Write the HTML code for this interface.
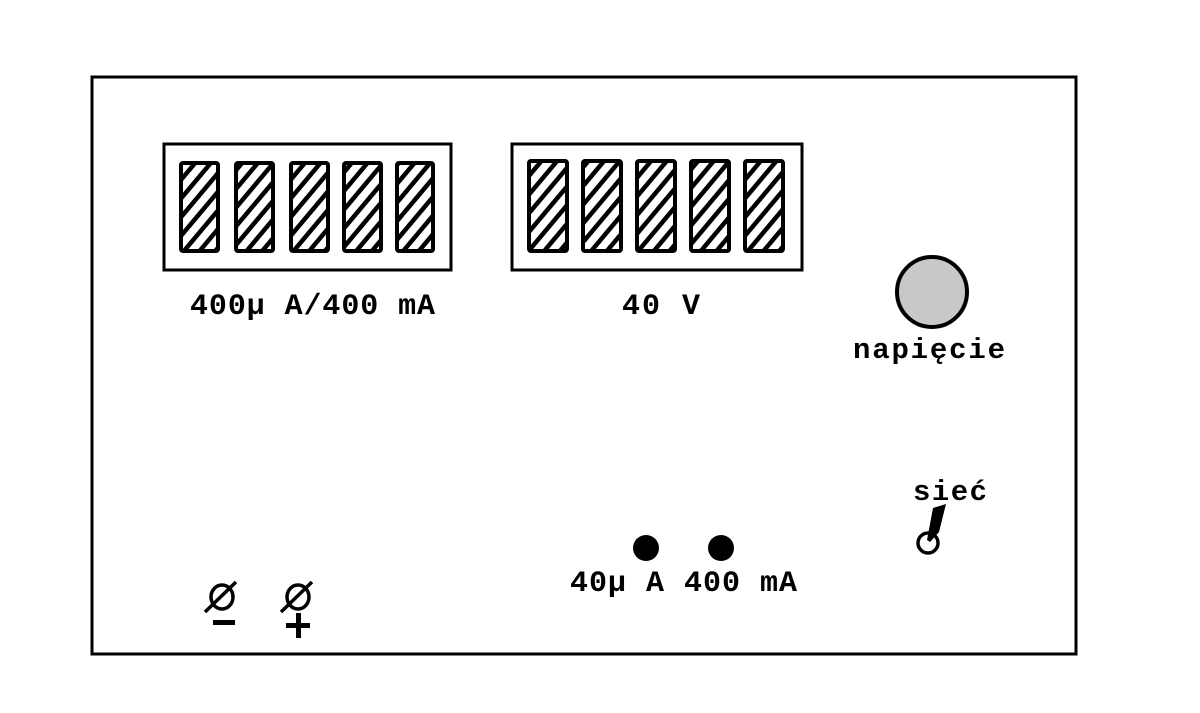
<!DOCTYPE html>
<html><head><meta charset="utf-8"><style>
html,body{margin:0;padding:0;background:#fff}
svg{display:block}
text{font-family:"Liberation Mono","DejaVu Sans Mono",monospace;font-weight:bold;fill:#000}
</style></head><body>
<svg width="1200" height="713" viewBox="0 0 1200 713" xmlns="http://www.w3.org/2000/svg">
<defs>
<pattern id="h" patternUnits="userSpaceOnUse" width="12" height="12" patternTransform="rotate(40)">
<rect width="12" height="12" fill="#fff"/>
<rect x="0" y="0" width="4.5" height="12" fill="#000"/>
</pattern>
</defs>
<rect x="92" y="77" width="984" height="577" fill="none" stroke="#000" stroke-width="3"/>
<rect x="164" y="144" width="287" height="126" fill="none" stroke="#000" stroke-width="3"/>
<rect x="512" y="144" width="290" height="126" fill="none" stroke="#000" stroke-width="3"/>
<g fill="url(#h)" stroke="#000" stroke-width="4">
<rect x="181" y="163" width="37" height="88" rx="2"/>
<rect x="236" y="163" width="37" height="88" rx="2"/>
<rect x="291" y="163" width="37" height="88" rx="2"/>
<rect x="344" y="163" width="37" height="88" rx="2"/>
<rect x="397" y="163" width="36" height="88" rx="2"/>
<rect x="529" y="161" width="38" height="90" rx="2"/>
<rect x="583" y="161" width="38" height="90" rx="2"/>
<rect x="637" y="161" width="38" height="90" rx="2"/>
<rect x="691" y="161" width="38" height="90" rx="2"/>
<rect x="745" y="161" width="38" height="90" rx="2"/>
</g>
<text x="190" y="314" font-size="30" textLength="245" lengthAdjust="spacing">400µ A/400 mA</text>
<text x="622" y="314" font-size="30" textLength="78" lengthAdjust="spacing">40 V</text>
<circle cx="932" cy="292" r="35" fill="#c8c8c8" stroke="#000" stroke-width="4"/>
<text x="853" y="358" font-size="29" textLength="152" lengthAdjust="spacing">napięcie</text>
<text x="913" y="500" font-size="29" textLength="74" lengthAdjust="spacing">sieć</text>
<circle cx="928" cy="543" r="10" fill="none" stroke="#000" stroke-width="3.5"/>
<polygon points="933,508 946,504 939,532 930,542 927,540" fill="#000"/>
<circle cx="646" cy="548" r="13" fill="#000"/>
<circle cx="721" cy="548" r="13" fill="#000"/>
<text x="570" y="591" font-size="30" textLength="227" lengthAdjust="spacing">40µ A 400 mA</text>
<g stroke="#000" stroke-width="3.5" fill="none">
<ellipse cx="222" cy="597" rx="11" ry="12"/>
<line x1="205" y1="612" x2="236" y2="582"/>
<ellipse cx="298" cy="597" rx="11" ry="12"/>
<line x1="281" y1="612" x2="312" y2="582"/>
</g>
<rect x="213" y="620" width="22" height="5" fill="#000"/>
<rect x="286" y="623" width="24" height="5" fill="#000"/>
<rect x="296" y="613" width="5" height="25" fill="#000"/>
</svg>
</body></html>
